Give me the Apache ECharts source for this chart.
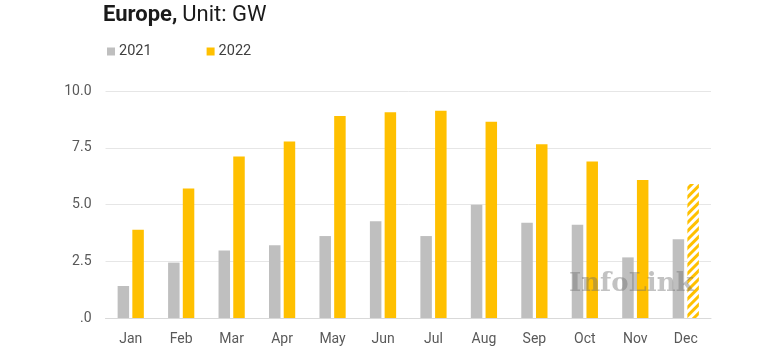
<!DOCTYPE html>
<html>
<head>
<meta charset="utf-8">
<script src="https://cdn.jsdelivr.net/npm/echarts@6/dist/echarts.min.js"></script>
<style>html,body{margin:0;padding:0;background:#fff;}#c{width:780px;height:350px;}</style>
</head>
<body>
<div id="c"></div>
<script>
const categories = ['Jan','Feb','Mar','Apr','May','Jun','Jul','Aug','Sep','Oct','Nov','Dec'];
const values2021 = [1.41, 2.44, 2.97, 3.20, 3.61, 4.26, 3.61, 4.99, 4.20, 4.11, 2.67, 3.47];
const values2022 = [3.89, 5.70, 7.11, 7.77, 8.90, 9.06, 9.13, 8.65, 7.65, 6.89, 6.08, 5.90];
const seriesNames = ['2021', '2022'];
const yTicks = [0, 2.5, 5, 7.5, 10];

const chart = echarts.init(document.getElementById('c'), null, {renderer: 'canvas'});
const FONT = 'Roboto';
const data2022 = values2022.map((v, i) => i === values2022.length - 1 ? {
  value: v,
  itemStyle: {
    color: '#ffffff',
    decal: {
      symbol: 'rect',
      color: '#FFC000',
      dashArrayX: [1, 0],
      dashArrayY: [3, 3],
      symbolSize: 1,
      rotation: -Math.PI / 4
    }
  }
} : v);

chart.setOption({
  animation: false,
  title: {
    left: 98, top: -1,
    text: '{b|Europe,} {n|Unit: GW}',
    textStyle: {
      rich: {
        b: {fontFamily: FONT, fontWeight: 'bold', fontSize: 22, color: '#1a1a1a'},
        n: {fontFamily: FONT, fontWeight: 'normal', fontSize: 22, color: '#1a1a1a'}
      }
    }
  },
  legend: {
    left: 102, top: 39,
    itemWidth: 8, itemHeight: 8, itemGap: 55,
    icon: 'rect',
    textStyle: {fontFamily: FONT, fontSize: 14.5, color: '#404040', padding: [0,0,0,-1]},
    data: seriesNames
  },
  grid: {left: 105.5, right: 69, top: 91, bottom: 32},
  xAxis: {
    type: 'category',
    data: categories,
    axisLine: {lineStyle: {color: '#d9d9d9', width: 1}},
    axisTick: {show: false},
    axisLabel: {fontFamily: FONT, fontSize: 14, color: '#595959', margin: 14}
  },
  yAxis: {
    type: 'value',
    min: yTicks[0], max: yTicks[yTicks.length - 1], interval: 2.5,
    axisLine: {show: false},
    axisTick: {show: false},
    splitLine: {lineStyle: {color: '#e6e6e6', width: 1}},
    axisLabel: {
      fontFamily: FONT, fontSize: 14, color: '#595959', margin: 14,
      formatter: v => v === 0 ? '.0' : v.toFixed(1)
    }
  },
  series: [
    {name: seriesNames[0], type: 'bar', data: values2021, barWidth: 11.5, barGap: '28%',
     itemStyle: {color: '#BFBFBF'}},
    {name: seriesNames[1], type: 'bar', data: data2022, barWidth: 11.5,
     itemStyle: {color: '#FFC000'}}
  ],
  graphic: [{
    type: 'text', left: 569, top: 271, z: 100,
    style: {text: 'InfoLink', fontFamily: 'DejaVu Serif', fontWeight: 'bold', fontSize: 26, fill: 'rgba(110,110,110,0.42)'}
  }]
});
</script>
</body>
</html>
